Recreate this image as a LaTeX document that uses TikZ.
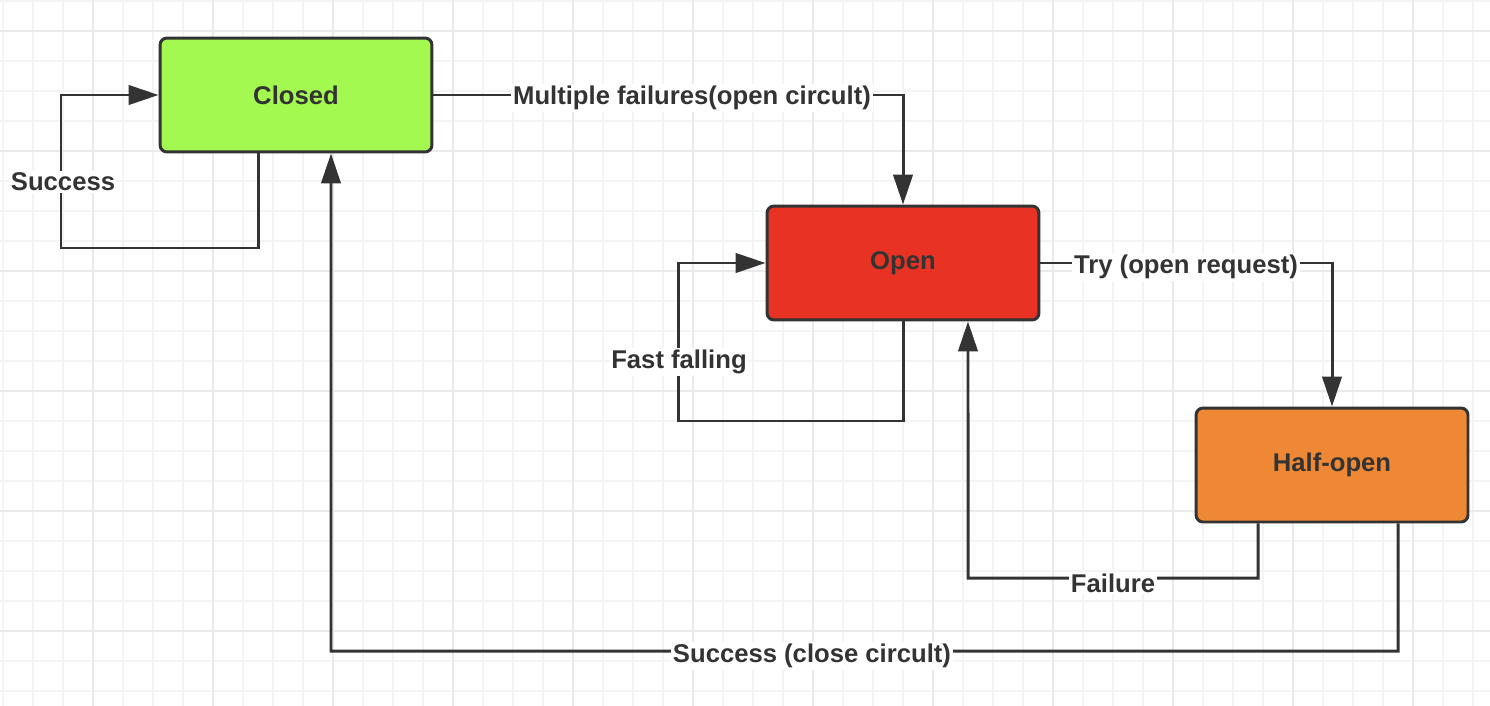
\documentclass[tikz,border=0pt]{standalone}
\usepackage{fontspec}
\setmainfont{Liberation Sans}
\usepackage{xcolor}
\usepackage{tikz}
\usetikzlibrary{arrows.meta}

\definecolor{ink}{HTML}{333333}
\definecolor{closedgreen}{HTML}{A3F94F}
\definecolor{openred}{HTML}{E83324}
\definecolor{halforange}{HTML}{EE8834}
\definecolor{minorline}{HTML}{F4F4F4}
\definecolor{majorline}{HTML}{EAEAEA}

\tikzset{
    state/.style = {draw=ink, line width=1.7pt, rounded corners=4pt,
        minimum width=5.44cm, minimum height=2.28cm, text=ink,
        font=\fontsize{14.6}{16}\selectfont\bfseries},
    flow/.style = {draw=ink, line width=1.7pt},
    lbl/.style = {fill=white, text=ink, inner sep=1pt,
        font=\fontsize{14.6}{16}\selectfont\bfseries}
}

\begin{document}
\begin{tikzpicture}[x=0.02cm, y=-0.02cm, >={Triangle[length=17pt, width=11pt]}]
                    \useasboundingbox (0,0) rectangle (1490,706);
                    % background grid
                    \begin{scope}
                        \clip (0,0) rectangle (1490,706);
                        \foreach \gx in {2.7,32.7,...,1490} \draw[minorline, line width=1pt] (\gx,0) -- (\gx,706);
                        \foreach \gy in {0.7,30.7,...,706} \draw[minorline, line width=1pt] (0,\gy) -- (1490,\gy);
                        \foreach \gx in {92.7,212.7,...,1490} \draw[majorline, line width=1pt] (\gx,0) -- (\gx,706);
                        \foreach \gy in {30.7,150.7,...,706} \draw[majorline, line width=1pt] (0,\gy) -- (1490,\gy);
                    \end{scope}

                    \node[state, fill=closedgreen] (closed) at (296,95) {Closed};
                    \node[state, fill=openred] (open) at (903,263) {Open};
                    \node[state, fill=halforange] (halfopen) at (1332,465) {Half-open};

                    \draw[flow, ->] ([xshift=-0.76cm]closed.south) |- (61,248) |- (closed.west);
                    \draw[flow, ->] (closed.east) -| (open.north);
                    \draw[flow, ->] (open.south) |- (678,421) |- (open.west);
                    \draw[flow, ->] (open.east) -| (halfopen.north);
                    \draw[flow, ->] ([xshift=-1.48cm]halfopen.south) |- (968,578) -- ([xshift=1.3cm]open.south);
                    \draw[flow, ->] ([xshift=1.32cm]halfopen.south) |- (331,651) -- ([xshift=0.7cm]closed.south);

                    \node[lbl] (success) at (63,182) {Success};
                    \node[lbl] (failures) at (692,98) {Multiple failures(open circult)};
                    \node[lbl] (fast) at (679,362) {Fast falling};
                    \node[lbl] (try) at (1186,267) {Try (open request)};
                    \node[lbl] (failure) at (1113,583) {Failure};
                    \node[lbl] (close) at (812,656) {Success (close circult)};

            \end{tikzpicture}
\end{document}
